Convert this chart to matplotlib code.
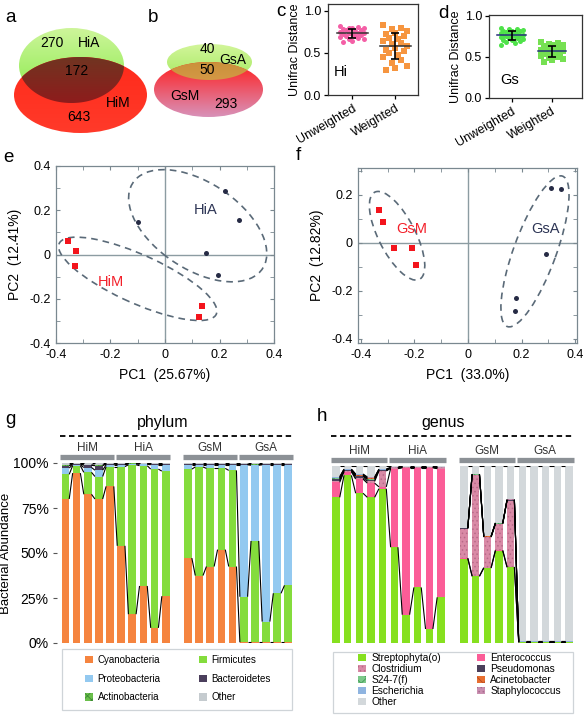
import numpy as np
import matplotlib
matplotlib.use("Agg")
import matplotlib.pyplot as plt
from matplotlib.patches import Ellipse, Rectangle, Patch, Polygon
from matplotlib.colors import LinearSegmentedColormap
from matplotlib.ticker import MultipleLocator, FuncFormatter
from matplotlib.collections import LineCollection
from matplotlib import transforms

plt.rcParams['font.family'] = ['Liberation Sans', 'DejaVu Sans']
plt.rcParams['hatch.linewidth'] = 0.6

W, H = 586, 716

# ---- Venn counts ----
venn_hi = [270, 172, 643]    # HiA only, shared, HiM only
venn_gs = [40, 50, 293]      # GsA only, shared, GsM only

# ---- Unifrac distances ----
hi_unweighted = [0.82, 0.81, 0.80, 0.80, 0.79, 0.78, 0.77, 0.77, 0.76, 0.75, 0.74, 0.74,
                 0.73, 0.72, 0.72, 0.71, 0.70, 0.70, 0.69, 0.68, 0.67, 0.66, 0.64, 0.63]
hi_weighted = [0.83, 0.80, 0.78, 0.76, 0.74, 0.72, 0.70, 0.68, 0.66, 0.64, 0.62, 0.60,
               0.58, 0.56, 0.54, 0.52, 0.50, 0.47, 0.45, 0.42, 0.38, 0.35, 0.32, 0.30]
gs_unweighted = [0.85, 0.84, 0.84, 0.83, 0.82, 0.82, 0.81, 0.80, 0.80, 0.79, 0.78, 0.78, 0.77, 0.77,
                 0.76, 0.76, 0.75, 0.75, 0.74, 0.73, 0.73, 0.72, 0.71, 0.70, 0.69, 0.68, 0.67, 0.65]
gs_weighted = [0.68, 0.67, 0.66, 0.65, 0.64, 0.63, 0.62, 0.61, 0.60, 0.59, 0.58, 0.57,
               0.57, 0.56, 0.55, 0.54, 0.53, 0.52, 0.51, 0.50, 0.49, 0.48, 0.46, 0.44]
dist_labels = ['Unweighted', 'Weighted']

# ---- PCoA ----
hia_pc1 = [-0.098, 0.22, 0.273, 0.149, 0.193]
hia_pc2 = [0.149, 0.287, 0.155, 0.009, -0.093]
him_pc1 = [-0.355, -0.327, -0.33, 0.135, 0.125]
him_pc2 = [0.059, 0.017, -0.051, -0.232, -0.281]
gsm_pc1 = [-0.334, -0.319, -0.275, -0.209, -0.194]
gsm_pc2 = [0.139, 0.088, -0.022, -0.022, -0.093]
gsa_pc1 = [0.31, 0.346, 0.29, 0.181, 0.175]
gsa_pc2 = [0.229, 0.227, -0.044, -0.231, -0.283]

# ---- community composition (20 samples: HiM, HiA, GsM, GsA x 5) ----
groups = ['HiM', 'HiA', 'GsM', 'GsA']

phylum_names = ['Cyanobacteria', 'Firmicutes', 'Proteobacteria', 'Bacteroidetes', 'Actinobacteria', 'Other']
cyanobacteria = [0.800, 0.944, 0.826, 0.800, 0.870, 0.540, 0.160, 0.317, 0.084, 0.260,
                 0.472, 0.375, 0.425, 0.519, 0.425, 0.004, 0.004, 0.004, 0.004, 0.004]
firmicutes = [0.137, 0.041, 0.122, 0.125, 0.110, 0.440, 0.830, 0.668, 0.882, 0.695,
              0.494, 0.603, 0.545, 0.451, 0.534, 0.253, 0.563, 0.115, 0.272, 0.316]
proteobacteria = [0.035, 0.005, 0.027, 0.035, 0.010, 0.010, 0.005, 0.008, 0.024, 0.035,
                  0.024, 0.012, 0.020, 0.020, 0.031, 0.733, 0.421, 0.871, 0.714, 0.670]
bacteroidetes = [0.012, 0.004, 0.012, 0.025, 0.004, 0.002, 0.002, 0.002, 0.002, 0.002,
                 0.002, 0.002, 0.002, 0.002, 0.002, 0.002, 0.002, 0.002, 0.002, 0.002]
actinobacteria = [0.003, 0.002, 0.003, 0.003, 0.002, 0.002, 0.001, 0.001, 0.002, 0.002,
                  0.002, 0.002, 0.002, 0.002, 0.002, 0.002, 0.002, 0.002, 0.002, 0.002]
phylum_other = [0.013, 0.004, 0.010, 0.012, 0.004, 0.006, 0.002, 0.004, 0.006, 0.006,
                0.006, 0.006, 0.006, 0.006, 0.006, 0.006, 0.008, 0.006, 0.006, 0.006]

genus_names = ['Streptophyta(o)', 'Enterococcus', 'Clostridium', 'Pseudomonas', 'S24-7(f)',
               'Acinetobacter', 'Escherichia', 'Staphylococcus', 'Other']
streptophyta = [0.823, 0.947, 0.846, 0.823, 0.872, 0.541, 0.160, 0.314, 0.079, 0.258,
                0.477, 0.376, 0.423, 0.521, 0.427, 0.003, 0.003, 0.003, 0.003, 0.003]
enterococcus = [0.085, 0.020, 0.080, 0.080, 0.010, 0.444, 0.830, 0.676, 0.911, 0.727,
                0.003, 0.003, 0.003, 0.003, 0.003, 0.001, 0.001, 0.001, 0.001, 0.001]
clostridium = [0.010, 0.005, 0.008, 0.010, 0.090, 0.002, 0.002, 0.002, 0.002, 0.002,
               0.166, 0.570, 0.172, 0.149, 0.375, 0.001, 0.001, 0.001, 0.001, 0.001]
pseudomonas = [0.008, 0.003, 0.008, 0.010, 0.003, 0.001, 0.001, 0.001, 0.001, 0.001,
               0.002, 0.002, 0.002, 0.002, 0.002, 0.001, 0.001, 0.001, 0.001, 0.001]
s24_7 = [0.004, 0.002, 0.004, 0.005, 0.002, 0.001, 0.001, 0.001, 0.001, 0.001,
         0.001, 0.001, 0.001, 0.001, 0.001, 0.001, 0.001, 0.001, 0.001, 0.001]
acinetobacter = [0.003, 0.002, 0.003, 0.003, 0.002, 0.001, 0.001, 0.001, 0.001, 0.001,
                 0.001, 0.001, 0.001, 0.001, 0.001, 0.001, 0.001, 0.001, 0.001, 0.001]
escherichia = [0.004, 0.002, 0.003, 0.004, 0.002, 0.001, 0.001, 0.001, 0.001, 0.001,
               0.001, 0.001, 0.001, 0.001, 0.001, 0.001, 0.001, 0.001, 0.001, 0.001]
staphylococcus = [0.003, 0.002, 0.003, 0.003, 0.002, 0.001, 0.001, 0.001, 0.001, 0.001,
                  0.001, 0.001, 0.001, 0.001, 0.001, 0.001, 0.001, 0.001, 0.001, 0.001]
genus_other = [0.060, 0.017, 0.045, 0.062, 0.017, 0.008, 0.003, 0.003, 0.003, 0.008,
               0.348, 0.045, 0.396, 0.321, 0.189, 0.990, 0.990, 0.990, 0.990, 0.990]


def px_rect(x0, y0, x1, y1):
    return [x0 / W, 1 - y1 / H, (x1 - x0) / W, (y1 - y0) / H]


def fy(y):
    return 1 - y / H


fig = plt.figure(figsize=(W / 100, H / 100), dpi=100)

# ================= a / b : Venn =================
axv = fig.add_axes(px_rect(0, 0, 290, 140))


def shaded(ax, center, w, h, c_top, c_bot, z, clip):
    cmap = LinearSegmentedColormap.from_list('', [c_top, c_bot])
    im = ax.imshow(np.linspace(0, 1, 64).reshape(-1, 1), cmap=cmap, aspect='auto',
                   extent=(center[0] - w / 2, center[0] + w / 2, center[1] + h / 2, center[1] - h / 2),
                   zorder=z, interpolation='bilinear')
    im.set_clip_path(clip)


def ell_pts(c, w, h, n=240):
    t = np.linspace(0, 2 * np.pi, n, endpoint=False)
    return np.c_[c[0] + w / 2 * np.cos(t), c[1] + h / 2 * np.sin(t)]


def inside(p, c, w, h):
    return ((p[:, 0] - c[0]) / (w / 2)) ** 2 + ((p[:, 1] - c[1]) / (h / 2)) ** 2 <= 1


def venn(ax, g, r, cols):
    (gc, gw, gh), (rc, rw, rh) = g, r
    eg = Ellipse(gc, gw, gh, transform=ax.transData)
    er = Ellipse(rc, rw, rh, transform=ax.transData)
    p1, p2 = ell_pts(gc, gw, gh), ell_pts(rc, rw, rh)
    pts = np.vstack([p1[inside(p1, rc, rw, rh)], p2[inside(p2, gc, gw, gh)]])
    ang = np.arctan2(pts[:, 1] - pts[:, 1].mean(), pts[:, 0] - pts[:, 0].mean())
    ov = Polygon(pts[np.argsort(ang)], closed=True, transform=ax.transData)
    shaded(ax, gc, gw, gh, cols[0], cols[1], 1, eg)
    shaded(ax, rc, rw, rh, cols[2], cols[3], 2, er)
    shaded(ax, gc, gw, gh, cols[4], cols[5], 3, ov)


venn(axv, ((71.5, 65.5), 105, 75), ((80.5, 95), 133, 76),
     ['#cdf59a', '#86ea48', '#ff2a1a', '#ff3a2a', '#5e4424', '#8e1c1c'])
venn(axv, ((209.5, 62), 85, 36), ((208.5, 89.5), 109, 55),
     ['#d2f59a', '#a6ea62', '#ff2020', '#d891b8', '#c08a30', '#d49845'])
axv.set_xlim(0, 290)
axv.set_ylim(140, 0)
axv.axis('off')
tk = dict(fontsize=10, ha='center', va='center', zorder=5)
axv.text(52, 43, str(venn_hi[0]), **tk)
axv.text(89, 43, 'HiA', **tk)
axv.text(77, 71, str(venn_hi[1]), **tk)
axv.text(118, 103, 'HiM', **tk)
axv.text(79, 117, str(venn_hi[2]), **tk)
axv.text(207, 49, str(venn_gs[0]), **tk)
axv.text(233, 60, 'GsA', **tk)
axv.text(207, 70, str(venn_gs[1]), **tk)
axv.text(185, 96, 'GsM', **tk)
axv.text(226, 104, str(venn_gs[2]), **tk)

# ================= c / d : Unifrac distances =================
jitter = np.array([-0.28, 0.14, -0.07, 0.28, 0.0, -0.21, 0.21, -0.14, 0.07])


def unifrac(rect, data, colors, markers, mean_col, tag, tag_xy, ylim_top, xlim):
    ax = fig.add_axes(rect)
    for i, (v, col, m) in enumerate(zip(data, colors, markers)):
        v = np.sort(np.asarray(v))[::-1]
        ax.scatter(i + np.resize(jitter, len(v)), v, s=13, c=col, marker=m, linewidths=0, zorder=2)
        mu, sd = v.mean(), v.std(ddof=1)
        ax.plot([i - 0.36, i + 0.36], [mu, mu], color=mean_col, lw=1.1, zorder=3)
        ax.errorbar(i, mu, yerr=sd, color='black', capsize=3, lw=1.2, capthick=1.2, zorder=4)
    ax.set_xlim(*xlim)
    ax.set_ylim(0, ylim_top)
    ax.set_yticks([0, 0.5, 1.0])
    ax.yaxis.set_major_formatter(FuncFormatter(lambda v, _: f'{v:.1f}'))
    ax.set_xticks([0, 1])
    ax.set_xticklabels(dist_labels, rotation=30, ha='right', rotation_mode='anchor')
    ax.tick_params(labelsize=9, length=3, width=0.9, pad=2)
    for s in ax.spines.values():
        s.set_color('#333333')
        s.set_linewidth(0.9)
    ax.set_ylabel('Unifrac Distance', fontsize=9, labelpad=2)
    ax.text(tag_xy[0], tag_xy[1], tag, fontsize=10.5, ha='center', va='center')
    return ax


unifrac(px_rect(328, 4, 418, 95), [hi_unweighted, hi_weighted], ['#f45fa6', '#f6953f'], ['o', 's'],
        '#333333', 'Hi', (-0.27, 0.27), 1.08, (-0.56, 1.53))
unifrac(px_rect(489, 15, 582, 98), [gs_unweighted, gs_weighted], ['#4fe24a', '#76e052'], ['o', 's'],
        '#24307a', 'Gs', (-0.05, 0.22), 1.01, (-0.57, 1.75))

# ================= e / f : PCoA =================
ell_col = '#5a6a78'


def pcoa(rect, xlim, ylim, red, navy, ells, red_lab, navy_lab, xl, yl):
    ax = fig.add_axes(rect)
    ax.axhline(0, color='#8c9ca2', lw=1, zorder=0)
    ax.axvline(0, color='#8c9ca2', lw=1, zorder=0)
    for c, w, h, a in ells:
        ax.add_patch(Ellipse(c, w, h, angle=a, fill=False, edgecolor=ell_col, lw=1.2,
                             linestyle=(0, (4, 3)), zorder=1))
    ax.plot(red[0], red[1], 's', color='#f3141c', ms=3.8, mew=0, zorder=3)
    ax.plot(navy[0], navy[1], 'o', color='#262b45', ms=3.6, mew=0, zorder=3)
    ax.text(*red_lab, color='#f3202a', fontsize=10.5, ha='center', va='center')
    ax.text(*navy_lab, color='#2d3555', fontsize=10.5, ha='center', va='center')
    ax.set_xlim(*xlim)
    ax.set_ylim(*ylim)
    for axis in (ax.xaxis, ax.yaxis):
        axis.set_major_locator(MultipleLocator(0.2))
        axis.set_minor_locator(MultipleLocator(0.1))
        axis.set_major_formatter(FuncFormatter(lambda v, _: '0' if abs(v) < 1e-9 else f'{v:.1f}'))
    ax.tick_params(which='both', direction='in', top=True, right=True, length=3,
                   color='#7a8890', labelsize=9, pad=4)
    for s in ax.spines.values():
        s.set_color('#7a8890')
        s.set_linewidth(0.9)
    ax.set_xlabel(xl, fontsize=10, labelpad=5)
    ax.set_ylabel(yl, fontsize=10, labelpad=5)
    return ax


pcoa(px_rect(56, 166, 274, 343), (-0.4, 0.4), (-0.4, 0.4), (him_pc1, him_pc2), (hia_pc1, hia_pc2),
     [((0.12, 0.13), 0.62, 0.36, -45), ((-0.1, -0.11), 0.66, 0.21, -30)],
     (-0.2, -0.126, 'HiM'), (0.15, 0.2, 'HiA'), 'PC1  (25.67%)', 'PC2  (12.41%)')
pcoa(px_rect(358, 168, 577, 343), (-0.411, 0.407), (-0.417, 0.3125), (gsm_pc1, gsm_pc2), (gsa_pc1, gsa_pc2),
     [((-0.265, 0.03), 0.4, 0.14, -66), ((0.25, -0.035), 0.66, 0.16, 72)],
     (-0.209, 0.058, 'GsM'), (0.29, 0.058, 'GsA'), 'PC1  (33.0%)', 'PC2  (12.82%)')

# ================= g / h : stacked bars =================
pos = np.r_[0:10, 11:21]
halves = [(0, 10), (10, 20)]


def stacked(rect, xlim, bw, series, colors, hatches, hcolors, title, ytop_px, title_x):
    ax = fig.add_axes(rect)
    bottom = np.zeros(len(pos))
    tops = []
    for vals, c, ht, hc in zip(series, colors, hatches, hcolors):
        vals = np.asarray(vals)
        ax.bar(pos, vals, width=bw, bottom=bottom, color=c, hatch=ht, edgecolor=hc, linewidth=0, zorder=1)
        bottom = bottom + vals
        tops.append(bottom.copy())
    segs = []
    for t in tops:
        for a, b in halves:
            for i in range(a, b - 1):
                segs.append([(pos[i] + bw / 2, t[i]), (pos[i + 1] - bw / 2, t[i + 1])])
    ax.add_collection(LineCollection(segs, colors='black', linewidths=0.8, zorder=2))
    ax.set_xlim(*xlim)
    ax.set_ylim(0, 1)
    ax.set_xticks([])
    for s in ax.spines.values():
        s.set_visible(False)
    tr = transforms.blended_transform_factory(ax.transData, fig.transFigure)
    for k, name in enumerate(groups):
        x0, x1 = pos[5 * k] - 0.45, pos[5 * k + 4] + 0.4
        ax.plot([x0, x1], [fy(ytop_px - 6)] * 2, transform=tr, color='#8c9196', lw=3.8,
                solid_capstyle='butt', clip_on=False)
        ax.text((x0 + x1) / 2, fy(ytop_px - 15), name, transform=tr, ha='center', va='center',
                fontsize=8.5, color='#333333')
    ax.plot([pos[0] - 0.45, pos[-1] + 0.4], [fy(436)] * 2, transform=tr, color='black', lw=1.3,
            ls=(0, (3, 2)), clip_on=False)
    fig.text(title_x / W, fy(423), title, fontsize=11.5, ha='center', va='center')
    return ax


phylum_cols = ['#f5843f', '#84dc3c', '#93c9f0', '#4b3f5c', '#6abf4b', '#c5cbcf']
phylum_hatch = [None, None, None, None, 'xxxx', None]
phylum_hcol = ['#f5843f', '#84dc3c', '#93c9f0', '#4b3f5c', '#3d8a35', '#c5cbcf']
axg = stacked(px_rect(57, 463, 293, 643), (-0.75, 20.42), 0.69,
              [cyanobacteria, firmicutes, proteobacteria, bacteroidetes, actinobacteria, phylum_other],
              phylum_cols, phylum_hatch, phylum_hcol, 'phylum', 463, 163)
axg.set_yticks([0, 0.25, 0.5, 0.75, 1.0])
axg.set_yticklabels(['0%', '25%', '50%', '75%', '100%'])
axg.tick_params(axis='y', labelsize=10, length=3, color='#555555', pad=3)
axg.set_ylabel('Bacterial Abundance', fontsize=9.5)
axg.yaxis.set_label_coords(-0.19, 0.5)

genus_cols = ['#86e01f', '#fb5d97', '#d98aa6', '#4a3f5a', '#7cc88a', '#e86f30', '#8fb4e0', '#c98fb0', '#d3d8db']
genus_hatch = [None, None, '....', None, 'xxx', 'xx', None, '....', None]
genus_hcol = ['#86e01f', '#fb5d97', '#b86a88', '#4a3f5a', '#3f9a55', '#b84a20', '#8fb4e0', '#a86a90', '#d3d8db']
axh = stacked(px_rect(330, 466, 575, 643), (-0.52, 20.52), 0.63,
              [streptophyta, enterococcus, clostridium, pseudomonas, s24_7, acinetobacter,
               escherichia, staphylococcus, genus_other],
              genus_cols, genus_hatch, genus_hcol, 'genus', 466, 443)
axh.set_yticks([])

# legends
fig.add_artist(Rectangle((62 / W, fy(710)), 230 / W, 61 / H, transform=fig.transFigure,
                         facecolor='white', edgecolor='#cfd4d8', lw=0.9, zorder=0))
fig.add_artist(Rectangle((333 / W, fy(713)), 240 / W, 61 / H, transform=fig.transFigure,
                         facecolor='white', edgecolor='#cfd4d8', lw=0.9, zorder=0))


def handles(idx, names, cols, hatches, hcols):
    return [Patch(facecolor=cols[i], hatch=hatches[i], edgecolor=hcols[i], lw=0, label=names[i]) for i in idx]


leg_kw = dict(frameon=False, loc='upper left', bbox_transform=fig.transFigure, borderpad=0,
              borderaxespad=0, handlelength=0.8, handleheight=0.8, handletextpad=0.5)
l1 = axg.legend(handles=handles([0, 2, 4], phylum_names, phylum_cols, phylum_hatch, phylum_hcol),
                bbox_to_anchor=(85 / W, fy(655)), fontsize=7, labelspacing=0.9, **leg_kw)
axg.add_artist(l1)
axg.legend(handles=handles([1, 3, 5], phylum_names, phylum_cols, phylum_hatch, phylum_hcol),
           bbox_to_anchor=(199 / W, fy(655)), fontsize=7, labelspacing=0.9, **leg_kw)
l3 = axh.legend(handles=handles([0, 2, 4, 6, 8], genus_names, genus_cols, genus_hatch, genus_hcol),
                bbox_to_anchor=(358 / W, fy(653)), fontsize=7.3, labelspacing=0.1, **leg_kw)
axh.add_artist(l3)
axh.legend(handles=handles([1, 3, 5, 7], genus_names, genus_cols, genus_hatch, genus_hcol),
           bbox_to_anchor=(477 / W, fy(653)), fontsize=7.3, labelspacing=0.1, **leg_kw)

# panel letters
for letter, x, y in [('a', 10, 17), ('b', 153, 17), ('c', 281, 12), ('d', 443, 14),
                     ('e', 8, 157), ('f', 298, 156), ('g', 10, 419), ('h', 322, 416)]:
    fig.text(x / W, fy(y), letter, fontsize=13.5, ha='center', va='center')

fig.savefig('out.png', dpi=100)
